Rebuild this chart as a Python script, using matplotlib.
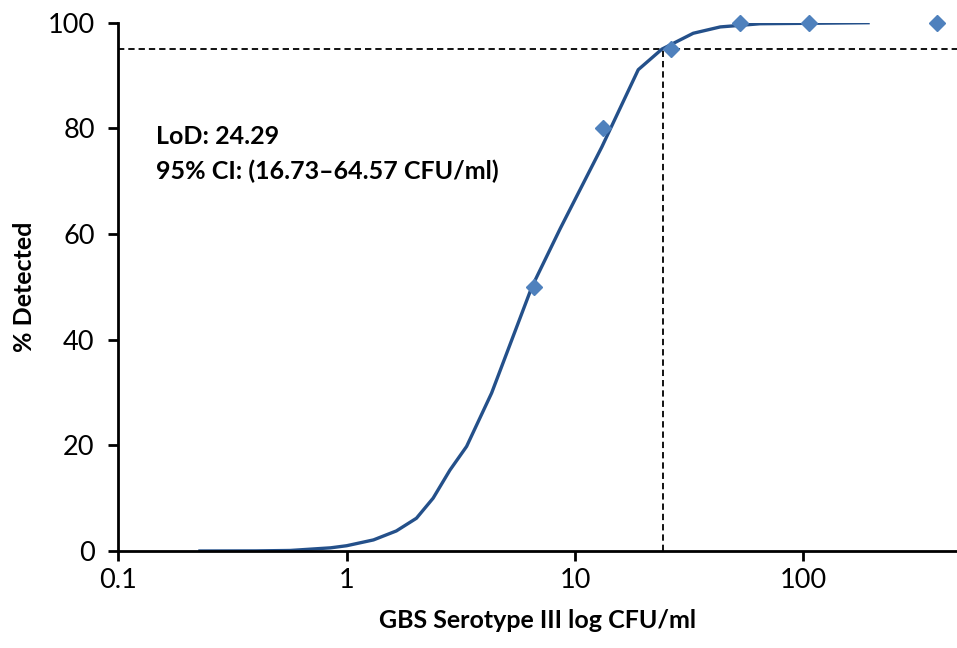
import matplotlib
matplotlib.use("Agg")
import matplotlib.pyplot as plt

# Observed data points
conc = [6.6, 13.2, 26.4, 52.8, 105.6, 385]
detected = [50, 80, 95, 100, 100, 100]

# Fitted (probit) curve
fit_x = [0.224, 0.40, 0.566, 0.85, 1.0, 1.31, 1.65, 2.02, 2.39, 2.83, 3.35,
         4.31, 6.47, 8.6, 13.1, 18.9, 24.0, 32.9, 43.2, 64.5, 195]
fit_y = [0.0, 0.02, 0.1, 0.6, 1.0, 2.1, 3.8, 6.2, 10.0, 15.3, 19.8,
         29.9, 50.0, 61.0, 76.5, 91.1, 95.0, 98.0, 99.2, 99.8, 100.0]

lod = 24.29
level = 95
xticks = [0.1, 1, 10, 100]
xticklabels = ["0.1", "1", "10", "100"]
yticks = [0, 20, 40, 60, 80, 100]

font = "Lato"
plt.rcParams['font.family'] = [font, 'DejaVu Sans']

fig = plt.figure(figsize=(9.57, 6.48), dpi=100)
ax = fig.add_axes([118.3/957, 1-551/648, 1-118.3/957, (551-22.7)/648])

ax.set_xscale('log')
ax.set_xlim(0.1, 470)
ax.set_ylim(0, 100)

ax.plot(fit_x, fit_y, color='#24508A', lw=2.4, solid_capstyle='butt', zorder=3)
ax.plot(conc, detected, linestyle='none', marker='D', ms=8,
        color='#4F81BD', mec='#4F81BD', zorder=4, clip_on=False)

ax.axhline(level, color='black', lw=1.3, ls=(0, (3.5, 2.2)), zorder=2)
ax.plot([lod, lod], [0, level], color='black', lw=1.3, ls=(0, (3.5, 2.2)), zorder=2)

for s in ['top', 'right']:
    ax.spines[s].set_visible(False)
for s in ['left', 'bottom']:
    ax.spines[s].set_linewidth(2.0)
    ax.spines[s].set_color('black')
    ax.spines[s].set_zorder(5)

ax.set_xticks(xticks)
ax.set_xticklabels(xticklabels)
ax.xaxis.set_minor_locator(matplotlib.ticker.NullLocator())
ax.set_yticks(yticks)
ax.tick_params(axis='both', direction='out', length=7, width=2.0,
               labelsize=19.5, colors='black')
ax.tick_params(axis='x', pad=5)
ax.tick_params(axis='y', pad=10)

ax.set_xlabel("GBS Serotype III log CFU/ml", fontsize=18, fontweight='bold', labelpad=12)
ax.set_ylabel("% Detected", fontsize=18, fontweight='bold', labelpad=8)

ax.text(156/957, 1-144/648, "LoD: 24.29", transform=fig.transFigure,
        fontsize=18, fontweight='bold', ha='left', va='baseline')
ax.text(156/957, 1-179/648, "95% CI: (16.73\u201364.57 CFU/ml)", transform=fig.transFigure,
        fontsize=18, fontweight='bold', ha='left', va='baseline')

fig.savefig("out.png", dpi=100)
